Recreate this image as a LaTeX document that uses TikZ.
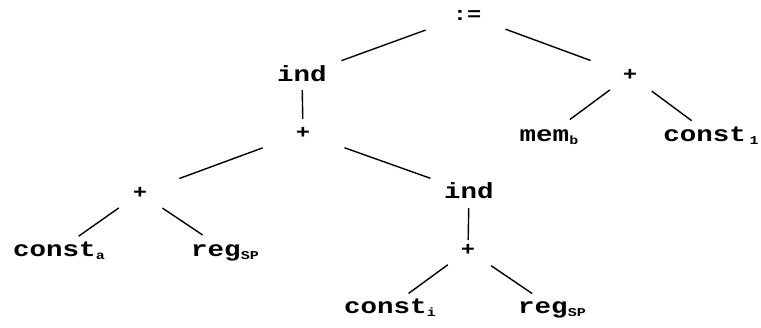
\documentclass[tikz,border=0pt]{standalone}
\usepackage{fontspec}
\setmonofont{Liberation Mono}[FakeStretch=1.25]
\newcommand{\sbs}[1]{\raisebox{-3.5pt}{\fontsize{12}{12}\selectfont #1}}
\begin{document}
\begin{tikzpicture}[x=1pt,y=-1pt,
  lbl/.style={inner sep=0pt, text height=12pt, text depth=0pt,
    font=\fontsize{22}{22}\selectfont\ttfamily\bfseries},
  op/.style={lbl, text height=10.5pt, font=\fontsize{19}{19}\selectfont\ttfamily\bfseries},
  edge/.style={line width=1.4pt}]
\useasboundingbox (0,0) rectangle (761,327);
\node[op] (top) at (467,15) {:=};
\node[lbl] (ind1) at (302,75) {ind};
\node[op] (plusR) at (630,75) {+};
\node[op] (plusM) at (303,133) {+};
\node[lbl] (memb) at (549,135) {mem\sbs{b}};
\node[lbl] (const1) at (711,135) {const\,\sbs{1}};
\node[op] (plusL) at (140,193) {+};
\node[lbl] (ind2) at (469,192) {ind};
\node[lbl] (consta) at (59,250) {const\sbs{a}};
\node[lbl] (reg1) at (225,250) {reg\sbs{SP}};
\node[op] (plusI) at (468,250) {+};
\node[lbl] (consti) at (390,307) {const\sbs{i}};
\node[lbl] (reg2) at (552,307) {reg\sbs{SP}};
\draw[edge, shorten <=44pt, shorten >=42pt] (top.center) -- (ind1.center);
\draw[edge, shorten <=41pt, shorten >=42pt] (top.center) -- (plusR.center);
\draw[edge, shorten <=15pt, shorten >=14pt] (ind1.center) -- (plusM.center);
\draw[edge, shorten <=43pt, shorten >=42pt] (plusM.center) -- (plusL.center);
\draw[edge, shorten <=44pt, shorten >=41pt] (plusM.center) -- (ind2.center);
\draw[edge, shorten <=26pt, shorten >=24pt] (plusL.center) -- (consta.center);
\draw[edge, shorten <=27pt, shorten >=27pt] (plusL.center) -- (reg1.center);
\draw[edge, shorten <=16pt, shorten >=10pt] (ind2.center) -- (plusI.center);
\draw[edge, shorten <=25pt, shorten >=23pt] (plusI.center) -- (consti.center);
\draw[edge, shorten <=28pt, shorten >=24pt] (plusI.center) -- (reg2.center);
\draw[edge, shorten <=25pt, shorten >=26pt] (plusR.center) -- (memb.center);
\draw[edge, shorten <=27pt, shorten >=24pt] (plusR.center) -- (const1.center);
\end{tikzpicture}
\end{document}
